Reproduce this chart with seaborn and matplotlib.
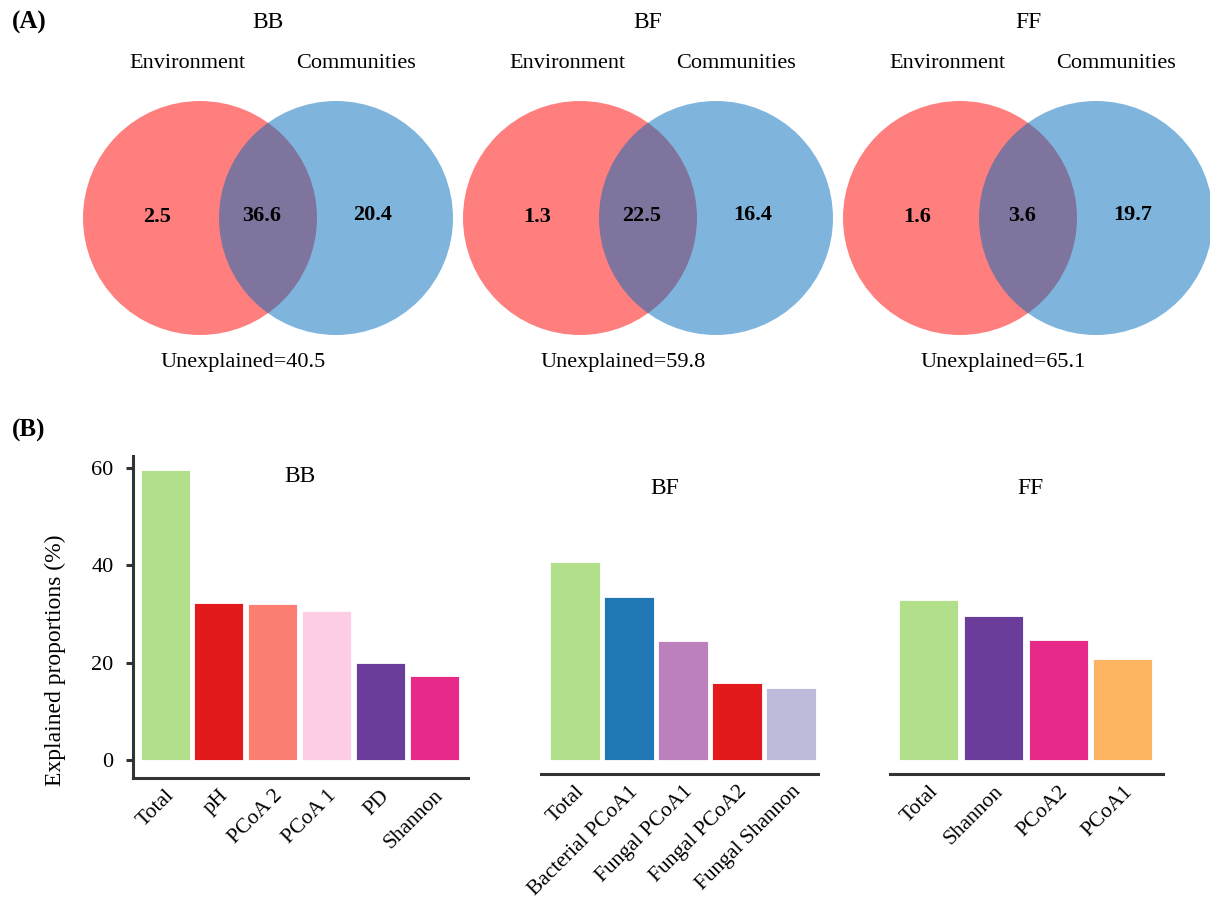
import numpy as np
import matplotlib.pyplot as plt
import matplotlib.patches as mpatches
import seaborn as sns

sns.set_style("white")
plt.rcParams["font.family"] = ["Liberation Serif", "DejaVu Serif"]
plt.rcParams["text.color"] = "black"
plt.rcParams["axes.labelcolor"] = "black"
plt.rcParams["xtick.color"] = "black"
plt.rcParams["ytick.color"] = "black"

# (A) variation partitioning: environment vs communities
venn_groups = ["BB", "BF", "FF"]
env_only = [2.5, 1.3, 1.6]
shared = [36.6, 22.5, 3.6]
comm_only = [20.4, 16.4, 19.7]
unexplained = [40.5, 59.8, 65.1]

# (B) explained proportions (%)
bb_labels = ["Total", "pH", "PCoA 2", "PCoA 1", "PD", "Shannon"]
bb_values = [59.6, 32.2, 32.1, 30.6, 19.9, 17.2]
bb_colors = ["#b2df8a", "#e31a1c", "#fb8072", "#fccde5", "#6a3d9a", "#e7298a"]

bf_labels = ["Total", "Bacterial PCoA1", "Fungal PCoA1", "Fungal PCoA2", "Fungal Shannon"]
bf_values = [40.7, 33.5, 24.4, 15.8, 14.8]
bf_colors = ["#b2df8a", "#1f78b4", "#bc80bd", "#e31a1c", "#bebada"]

ff_labels = ["Total", "Shannon", "PCoA2", "PCoA1"]
ff_values = [32.8, 29.6, 24.6, 20.7]
ff_colors = ["#b2df8a", "#6a3d9a", "#e7298a", "#fdb462"]

W, H = 1210, 898
fig = plt.figure(figsize=(W / 100, H / 100), dpi=100)


def fx(x):
    return x / W


def fy(y):
    return 1 - y / H


# ---- (A) Venn diagrams, drawn in pixel units ----
ax_v = fig.add_axes([0, fy(400), 1, 400 / H])
ax_v.set_xlim(0, W)
ax_v.set_ylim(400, 0)
ax_v.axis("off")

r = 117
for i, g in enumerate(venn_groups):
    rx = 200 + 380 * i
    bx = rx + 136
    cy = 218
    ax_v.add_patch(mpatches.Circle((rx, cy), r, fc=(1, 0, 0), alpha=0.5, lw=0))
    ax_v.add_patch(mpatches.Circle((bx, cy), r, fc=(0, 107 / 255, 187 / 255), alpha=0.5, lw=0))
    ax_v.text((rx + bx) / 2, 23, g, ha="center", va="center", fontsize=17)
    ax_v.text(rx - 13, 64, "Environment", ha="center", va="center", fontsize=16)
    ax_v.text(bx + 20, 64, "Communities", ha="center", va="center", fontsize=16)
    ax_v.text(rx - 43, 217, f"{env_only[i]}", ha="center", va="center",
              fontsize=16, fontweight="bold")
    ax_v.text((rx + bx) / 2 - 6, 216, f"{shared[i]}", ha="center", va="center",
              fontsize=16, fontweight="bold")
    ax_v.text(bx + 37, 215, f"{comm_only[i]}", ha="center", va="center",
              fontsize=16, fontweight="bold")
    ax_v.text(rx + 43, 362, f"Unexplained={unexplained[i]}", ha="center",
              va="center", fontsize=16)

fig.text(fx(12), fy(22), "(A)", ha="left", va="center", fontsize=18, fontweight="bold")
fig.text(fx(12), fy(430), "(B)", ha="left", va="center", fontsize=18, fontweight="bold")

# ---- (B) bar charts ----
spine_col = "#333333"


def bar_panel(rect, labels, values, colors, xlim, ylim, title, title_xy, show_y):
    ax = fig.add_axes(rect)
    sns.barplot(x=labels, y=values, hue=labels, palette=dict(zip(labels, colors)),
                legend=False, ax=ax, width=0.91, saturation=1,
                edgecolor="white", linewidth=0.6)
    ax.set_xlim(*xlim)
    ax.set_ylim(*ylim)
    sns.despine(ax=ax, left=not show_y)
    for s in ["left", "bottom"]:
        ax.spines[s].set_color(spine_col)
        ax.spines[s].set_linewidth(2.2)
    ax.tick_params(axis="x", direction="out", length=4, width=2.2, color=spine_col,
                   labelsize=15.5, pad=2)
    ax.set_xticks(range(len(labels)))
    ax.set_xticklabels(labels, rotation=45, ha="right", rotation_mode="anchor")
    if show_y:
        ax.set_yticks([0, 20, 40, 60])
        ax.tick_params(axis="y", direction="out", length=5, width=2.2, color=spine_col,
                       labelsize=16, pad=9, left=True)
        ax.set_ylabel("Explained proportions (%)", fontsize=17)
        ax.yaxis.set_label_coords(-0.20, 0.366)
    else:
        ax.set_yticks([])
        ax.set_ylabel("")
    fig.text(fx(title_xy[0]), fy(title_xy[1]), title, ha="center", va="center", fontsize=17)
    return ax


bar_panel([fx(133), fy(778), (468 - 133) / W, (778 - 456) / H],
          bb_labels, bb_values, bb_colors, (-0.595, 5.63), (-3.7, 62.5),
          "BB", (300, 476), True)
bar_panel([fx(541), fy(774), (818 - 541) / W, (774 - 456) / H],
          bf_labels, bf_values, bf_colors, (-0.63, 4.5), (-2.9, 62.5),
          "BF", (665, 488), False)
bar_panel([fx(890), fy(774), (1163 - 890) / W, (774 - 456) / H],
          ff_labels, ff_values, ff_colors, (-0.6, 3.62), (-2.9, 62.5),
          "FF", (1030, 488), False)

fig.savefig("out.png", dpi=100)
